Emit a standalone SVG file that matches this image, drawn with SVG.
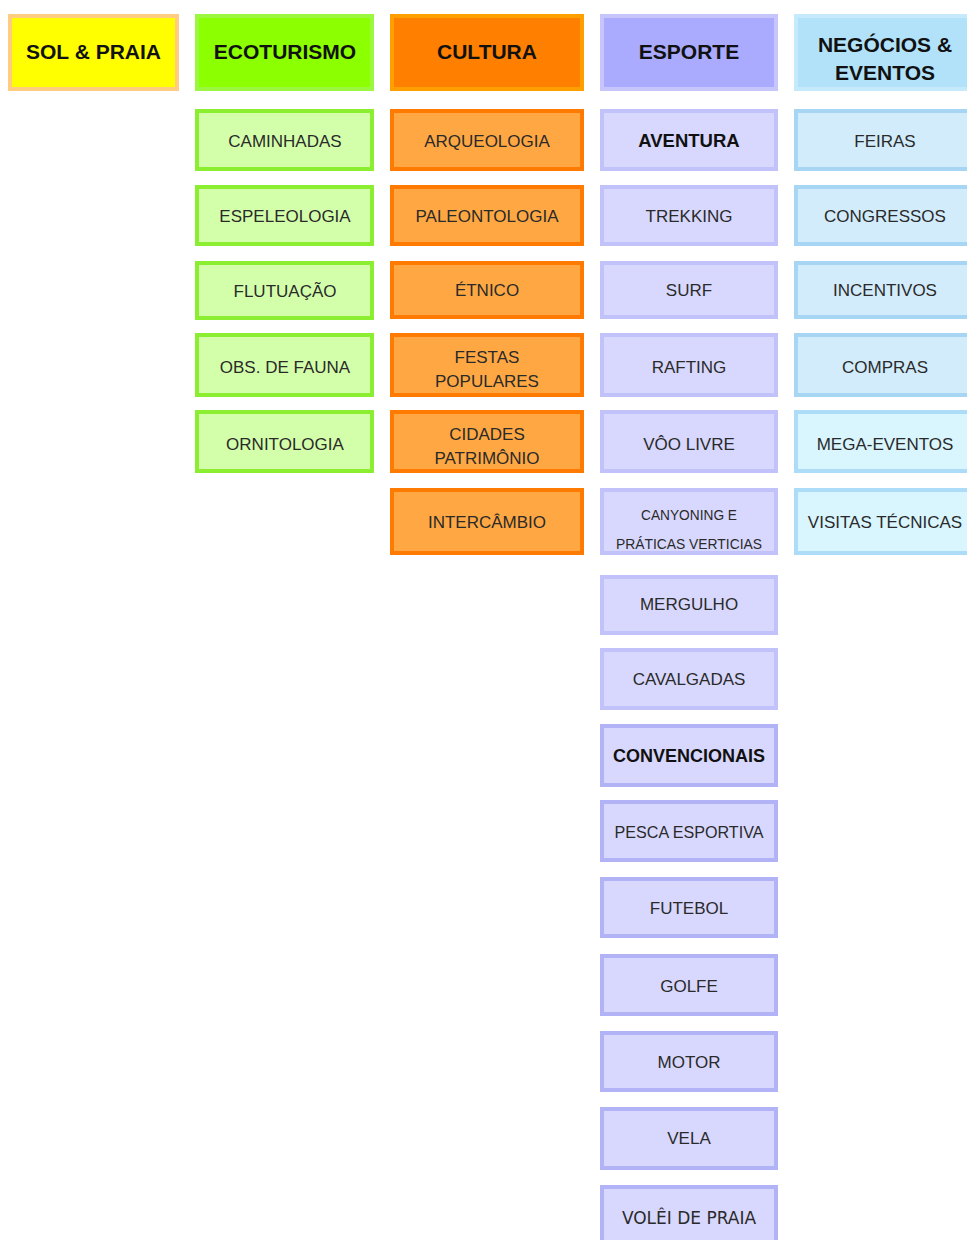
<svg xmlns="http://www.w3.org/2000/svg" width="967" height="1240" viewBox="0 0 967 1240">
<style>
rect{stroke-width:4}
text{font-family:"Liberation Sans",Arial,sans-serif;text-anchor:middle;fill:#2a2a2a}
.h{font-weight:bold;font-size:21px;fill:#111}
.s{font-size:17px}
.b{font-weight:bold;font-size:18.5px;fill:#111}
.sol{fill:#ffff00;stroke:#ffcc80}
.ecoH{fill:#8cff00;stroke:#9cf740}
.eco{fill:#d4ffaa;stroke:#8cee30}
.culH{fill:#ff7f00;stroke:#ffa000}
.cul{fill:#ffa843;stroke:#ff7a00}
.espH{fill:#aaaaff;stroke:#c6c6fc}
.esp{fill:#d8d8fe;stroke:#c2c2fa}
.esp2{fill:#d8d8fe;stroke:#b2b2f6}
.negH{fill:#b2e2f9;stroke:#c4eafb}
.neg{fill:#d2ecfc;stroke:#a6d6f4}
.neg2{fill:#d9f5fd;stroke:#acdcf8}
</style>
<g id="sol"><rect class="sol" x="10" y="16" width="167" height="73"/><text class="h" x="93.5" y="59">SOL &amp; PRAIA</text></g>
<g id="ecoturismo"><rect class="ecoH" x="197" y="16" width="175" height="73"/><text class="h" x="285" y="59">ECOTURISMO</text></g>
<g id="cultura"><rect class="culH" x="392" y="16" width="190" height="73"/><text class="h" x="487" y="59">CULTURA</text></g>
<g id="esporte"><rect class="espH" x="602" y="16" width="174" height="73"/><text class="h" x="689" y="59">ESPORTE</text></g>
<g id="negocios"><rect class="negH" x="796" y="16" width="185" height="73"/><text class="h" x="885" y="52">NEGÓCIOS &amp;</text><text class="h" x="885" y="80">EVENTOS</text></g>

<g id="caminhadas"><rect class="eco" x="197" y="111" width="175" height="58"/><text class="s" x="285" y="147">CAMINHADAS</text></g>
<g id="espeleologia"><rect class="eco" x="197" y="187" width="175" height="57"/><text class="s" x="285" y="222">ESPELEOLOGIA</text></g>
<g id="flutuacao"><rect class="eco" x="197" y="263" width="175" height="55"/><text class="s" x="285" y="297">FLUTUAÇÃO</text></g>
<g id="obs-fauna"><rect class="eco" x="197" y="335" width="175" height="60"/><text class="s" x="285" y="373">OBS. DE FAUNA</text></g>
<g id="ornitologia"><rect class="eco" x="197" y="412" width="175" height="59"/><text class="s" x="285" y="450">ORNITOLOGIA</text></g>

<g id="arqueologia"><rect class="cul" x="392" y="111" width="190" height="58"/><text class="s" x="487" y="147">ARQUEOLOGIA</text></g>
<g id="paleontologia"><rect class="cul" x="392" y="187" width="190" height="57"/><text class="s" x="487" y="222">PALEONTOLOGIA</text></g>
<g id="etnico"><rect class="cul" x="392" y="263" width="190" height="54"/><text class="s" x="487" y="296">ÉTNICO</text></g>
<g id="festas"><rect class="cul" x="392" y="335" width="190" height="60"/><text class="s" x="487" y="363">FESTAS</text><text class="s" x="487" y="387">POPULARES</text></g>
<g id="cidades"><rect class="cul" x="392" y="412" width="190" height="59"/><text class="s" x="487" y="440">CIDADES</text><text class="s" x="487" y="464">PATRIMÔNIO</text></g>
<g id="intercambio"><rect class="cul" x="392" y="490" width="190" height="63"/><text class="s" x="487" y="528">INTERCÂMBIO</text></g>

<g id="aventura"><rect class="esp" x="602" y="111" width="174" height="58"/><text class="b" x="689" y="147">AVENTURA</text></g>
<g id="trekking"><rect class="esp" x="602" y="187" width="174" height="57"/><text class="s" x="689" y="222">TREKKING</text></g>
<g id="surf"><rect class="esp" x="602" y="263" width="174" height="54"/><text class="s" x="689" y="296">SURF</text></g>
<g id="rafting"><rect class="esp" x="602" y="335" width="174" height="60"/><text class="s" x="689" y="373">RAFTING</text></g>
<g id="voo-livre"><rect class="esp" x="602" y="412" width="174" height="59"/><text class="s" x="689" y="450">VÔO LIVRE</text></g>
<g id="canyoning"><rect class="esp" x="602" y="490" width="174" height="63"/><text class="s" x="689" y="520" style="font-size:15px" textLength="96" lengthAdjust="spacingAndGlyphs">CANYONING E</text><text class="s" x="689" y="549" style="font-size:15px" textLength="146" lengthAdjust="spacingAndGlyphs">PRÁTICAS VERTICIAS</text></g>
<g id="mergulho"><rect class="esp" x="602" y="577" width="174" height="56"/><text class="s" x="689" y="610">MERGULHO</text></g>
<g id="cavalgadas"><rect class="esp" x="602" y="650" width="174" height="58"/><text class="s" x="689" y="685">CAVALGADAS</text></g>
<g id="convencionais"><rect class="esp2" x="602" y="726" width="174" height="59"/><text class="b" x="689" y="762" style="font-size:18px">CONVENCIONAIS</text></g>
<g id="pesca"><rect class="esp2" x="602" y="802" width="174" height="58"/><text class="s" x="689" y="838" textLength="149" lengthAdjust="spacingAndGlyphs">PESCA ESPORTIVA</text></g>
<g id="futebol"><rect class="esp2" x="602" y="879" width="174" height="57"/><text class="s" x="689" y="914">FUTEBOL</text></g>
<g id="golfe"><rect class="esp2" x="602" y="956" width="174" height="58"/><text class="s" x="689" y="992">GOLFE</text></g>
<g id="motor"><rect class="esp2" x="602" y="1033" width="174" height="57"/><text class="s" x="689" y="1068">MOTOR</text></g>
<g id="vela"><rect class="esp2" x="602" y="1109" width="174" height="59"/><text class="s" x="689" y="1144">VELA</text></g>
<g id="volei"><rect class="esp2" x="602" y="1187" width="174" height="62"/><text class="s" x="689" y="1224" style="font-family:'DejaVu Sans',sans-serif">VOLÊI DE PRAIA</text></g>

<g id="feiras"><rect class="neg" x="796" y="111" width="185" height="58"/><text class="s" x="885" y="147">FEIRAS</text></g>
<g id="congressos"><rect class="neg" x="796" y="187" width="185" height="57"/><text class="s" x="885" y="222">CONGRESSOS</text></g>
<g id="incentivos"><rect class="neg" x="796" y="263" width="185" height="54"/><text class="s" x="885" y="296">INCENTIVOS</text></g>
<g id="compras"><rect class="neg" x="796" y="335" width="185" height="60"/><text class="s" x="885" y="373">COMPRAS</text></g>
<g id="mega-eventos"><rect class="neg2" x="796" y="412" width="185" height="59"/><text class="s" x="885" y="450">MEGA-EVENTOS</text></g>
<g id="visitas"><rect class="neg2" x="796" y="490" width="185" height="63"/><text class="s" x="885" y="528">VISITAS TÉCNICAS</text></g>
<g id="connectors"></g>
</svg>
